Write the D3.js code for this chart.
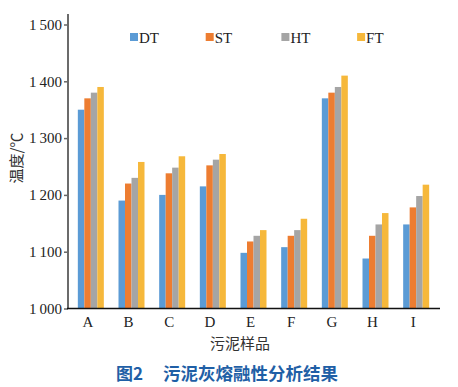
<!DOCTYPE html>
<html><head><meta charset="utf-8">
<script src="https://cdn.jsdelivr.net/npm/d3@7/dist/d3.min.js"></script>
<style>body{margin:0;background:#fff;}svg{display:block;}</style>
</head><body>
<svg id="c" width="458" height="387"></svg>
<script>
const categories = ["A","B","C","D","E","F","G","H","I"];
const series = ["DT","ST","HT","FT"];
const DT = [1350,1190,1200,1215,1098,1108,1370,1088,1148];
const ST = [1370,1220,1238,1252,1118,1128,1380,1128,1178];
const HT = [1380,1230,1248,1262,1128,1138,1390,1148,1198];
const FT = [1390,1258,1268,1272,1138,1158,1410,1168,1218];
const yTicks = [1000,1100,1200,1300,1400,1500];
const colors = ["#5b9bd5","#ed7d31","#a5a5a5","#f6b83b"];
const values = [DT,ST,HT,FT];

const svg = d3.select("#c");
const x = d3.scaleBand().domain(categories).range([70.5,436.5]).padding(0);
const xs = d3.scaleBand().domain(series).range([0,26]).padding(0);
const y = d3.scaleLinear().domain([1000,1500]).range([308.5,24.5]);

const fmt = v => { const s = String(v); return s[0] + "\u2009" + s.slice(1); };

series.forEach((s,si)=>{
  svg.append("g").selectAll("rect").data(categories).join("rect")
    .attr("x", c => x(c) + x.bandwidth()/2 - 13 + xs(s))
    .attr("y", (c,i)=> y(values[si][i]))
    .attr("width", xs.bandwidth())
    .attr("height", (c,i)=> y(1000) - y(values[si][i]))
    .attr("fill", colors[si]);
});

const ya = svg.append("g").attr("transform","translate(68,0)")
  .call(d3.axisLeft(y).tickValues(yTicks).tickFormat(fmt).tickSize(4).tickPadding(2));
ya.select(".domain").remove();
ya.selectAll(".tick line").attr("stroke","#666").attr("stroke-width",1.5);
ya.selectAll("text").attr("font-family","Liberation Serif").attr("font-size",15).attr("fill","#222");
svg.append("line").attr("x1",68).attr("x2",68).attr("y1",14).attr("y2",309)
  .attr("stroke","#6b6b6b").attr("stroke-width",2);

const xa = svg.append("g").attr("transform","translate(0,308.5)")
  .call(d3.axisBottom(x).tickSize(0).tickPadding(8));
xa.select(".domain").remove();
xa.selectAll("text").attr("font-family","Liberation Serif").attr("font-size",15).attr("fill","#222")
  .attr("dx", -3);
svg.append("line").attr("x1",67).attr("x2",440).attr("y1",308.5).attr("y2",308.5)
  .attr("stroke","#111").attr("stroke-width",1.5);

const lg = svg.append("g");
series.forEach((s,i)=>{
  const lx = 130 + i*75.7;
  lg.append("rect").attr("x",lx).attr("y",33).attr("width",8).attr("height",8).attr("fill",colors[i]);
  lg.append("text").attr("x",lx+9).attr("y",42.5).text(s)
    .attr("font-family","Liberation Serif").attr("font-size",15).attr("fill","#222");
});

svg.append("text").attr("x",240).attr("y",349).attr("text-anchor","middle")
  .attr("font-family","Noto Sans CJK SC").attr("font-size",15).attr("fill","#333").text("污泥样品");
svg.append("text").attr("transform","translate(22,158) rotate(-90)").attr("text-anchor","middle")
  .attr("font-family","Noto Sans CJK SC").attr("font-size",15).attr("fill","#333").text("温度/℃");

svg.append("text").attr("x",116).attr("y",380)
  .attr("font-family","Noto Sans CJK SC").attr("font-weight","bold").attr("font-size",17).attr("fill","#1f5fa6")
  .text("图2");
svg.append("text").attr("x",163).attr("y",380)
  .attr("font-family","Noto Sans CJK SC").attr("font-weight","bold").attr("font-size",17.5).attr("fill","#1f5fa6")
  .text("污泥灰熔融性分析结果");
</script>
</body></html>
